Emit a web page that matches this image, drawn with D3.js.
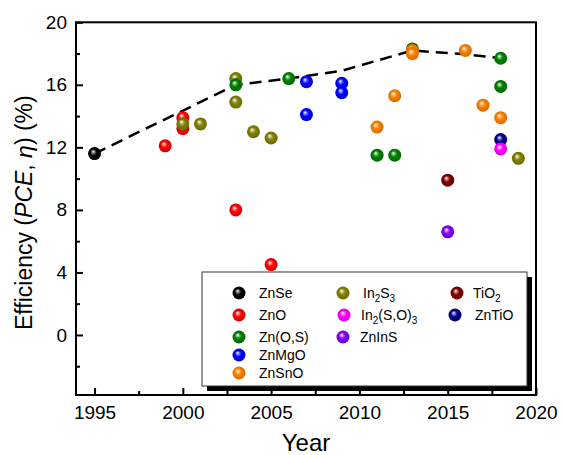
<!DOCTYPE html>
<html>
<head>
<meta charset="utf-8">
<script src="https://cdn.jsdelivr.net/npm/d3@7/dist/d3.min.js"></script>
<style>
  html, body { margin: 0; padding: 0; background: #fff; }
  svg { display: block; font-family: "Liberation Sans", Arial, sans-serif; }
</style>
</head>
<body>
<svg id="chart" width="563" height="455"></svg>
<script>
// Buffer-layer materials and their reported efficiencies (year, PCE %)
const materials = ["ZnSe", "ZnO", "Zn(O,S)", "ZnMgO", "ZnSnO", "In2S3", "In2(S,O)3", "ZnInS", "TiO2", "ZnTiO"];
const colors = ["#000000", "#ff0000", "#008000", "#0000ff", "#ff8000", "#808000", "#ff00ff", "#8000ff", "#800000", "#000090"];

const znSe = [[1995, 11.6]];
const znO = [[1999, 12.1], [2000, 13.9], [2000, 13.2], [2003, 8.0], [2005, 4.5]];
const znOS = [[2003, 16.0], [2006, 16.4], [2013, 18.3], [2018, 17.7], [2018, 15.9], [2011, 11.5], [2012, 11.5]];
const znMgO = [[2007, 16.2], [2007, 14.1], [2009, 16.1], [2009, 15.5]];
const znSnO = [[2013, 18.2], [2013, 18.0], [2016, 18.2], [2012, 15.3], [2011, 13.3], [2017, 14.7], [2018, 13.9]];
const in2S3 = [[2000, 13.5], [2001, 13.5], [2003, 16.4], [2003, 14.9], [2004, 13.0], [2005, 12.6], [2019, 11.3]];
const in2SO3 = [[2018, 11.9]];
const znInS = [[2015, 6.6]];
const tiO2 = [[2015, 9.9]];
const znTiO = [[2018, 12.5]];

// Draw order (later on top)
const seriesData = [znSe, znO, in2S3, znOS, znMgO, znSnO, tiO2, znInS, znTiO, in2SO3];
const seriesIdx  = [0, 1, 5, 2, 3, 4, 8, 7, 9, 6];

// Record-efficiency trend
const trend = [[1995, 11.6], [2003, 16.0], [2006, 16.4], [2009, 16.9], [2013, 18.2], [2016, 17.95], [2018, 17.7]];

const xTicks = [1995, 2000, 2005, 2010, 2015, 2020];
const xMinor = [1997.5, 2002.5, 2007.5, 2012.5, 2017.5];
const yTicks = [0, 4, 8, 12, 16, 20];
const yMinor = [-2, 2, 6, 10, 14, 18];

const svg = d3.select("#chart");
const L = 76, R = 536, T = 22.3, B = 395;
const x = d3.scaleLinear().domain([1993.95, 2020]).range([L, R]);
const y = d3.scaleLinear().domain([-3.84, 20]).range([B, T]);

// sphere gradients
const defs = svg.append("defs");
colors.forEach((c, i) => {
  const g = defs.append("radialGradient").attr("id", "ball" + i)
    .attr("cx", "50%").attr("cy", "50%").attr("r", "55%")
    .attr("fx", "38%").attr("fy", "33%");
  g.append("stop").attr("offset", "0%").attr("stop-color", "#ffffff");
  g.append("stop").attr("offset", "22%").attr("stop-color", d3.interpolateRgb("#ffffff", c)(0.55));
  g.append("stop").attr("offset", "45%").attr("stop-color", c);
  g.append("stop").attr("offset", "100%").attr("stop-color", d3.color(c).darker(0.6));
});

// Frame
svg.append("rect").attr("x", L).attr("y", T).attr("width", R - L).attr("height", B - T)
  .attr("fill", "none").attr("stroke", "#000").attr("stroke-width", 2);

// Axes (ticks inward)
const xAxis = d3.axisBottom(x).tickValues(xTicks).tickFormat(d3.format("d")).tickSize(-7).tickPadding(11);
const gx = svg.append("g").attr("transform", `translate(0,${B})`).call(xAxis);
gx.select(".domain").remove();
gx.selectAll(".tick line").attr("stroke-width", 2);
gx.selectAll("text").attr("font-size", 19).attr("fill", "#000");
const gxm = svg.append("g").attr("transform", `translate(0,${B})`)
  .call(d3.axisBottom(x).tickValues(xMinor).tickFormat("").tickSize(-4));
gxm.select(".domain").remove();
gxm.selectAll(".tick line").attr("stroke-width", 2);

const yAxis = d3.axisLeft(y).tickValues(yTicks).tickFormat(d3.format("d")).tickSize(-7).tickPadding(9);
const gy = svg.append("g").attr("transform", `translate(${L},0)`).call(yAxis);
gy.select(".domain").remove();
gy.selectAll(".tick line").attr("stroke-width", 2);
gy.selectAll("text").attr("font-size", 19).attr("fill", "#000");
const gym = svg.append("g").attr("transform", `translate(${L},0)`)
  .call(d3.axisLeft(y).tickValues(yMinor).tickFormat("").tickSize(-4));
gym.select(".domain").remove();
gym.selectAll(".tick line").attr("stroke-width", 2);

// Axis titles
svg.append("text").attr("x", (L + R) / 2).attr("y", 451).attr("text-anchor", "middle")
  .attr("font-size", 24).text("Year");
const yl = svg.append("text").attr("transform", `translate(32,${(T + B) / 2 + 4}) rotate(-90)`)
  .attr("text-anchor", "middle").attr("font-size", 23);
yl.append("tspan").text("Efficiency (");
yl.append("tspan").attr("font-style", "italic").text("PCE");
yl.append("tspan").text(", ");
yl.append("tspan").attr("font-style", "italic").text("η");
yl.append("tspan").text(") (%)");

// Trend line
svg.append("path").datum(trend)
  .attr("d", d3.line().x(d => x(d[0])).y(d => y(d[1])))
  .attr("fill", "none").attr("stroke", "#000").attr("stroke-width", 2.5)
  .attr("stroke-dasharray", "12,7");

// Points
const R_PT = 6.5;
seriesData.forEach((data, k) => {
  const ci = seriesIdx[k];
  svg.append("g").selectAll("circle").data(data).join("circle")
    .attr("cx", d => x(d[0])).attr("cy", d => y(d[1])).attr("r", R_PT)
    .attr("fill", `url(#ball${ci})`);
});

// Legend
const lg = svg.append("g");
lg.append("rect").attr("x", 207).attr("y", 277).attr("width", 325).attr("height", 114).attr("fill", "#000");
lg.append("rect").attr("x", 202).attr("y", 272).attr("width", 325).attr("height", 114)
  .attr("fill", "#fff").attr("stroke", "#333").attr("stroke-width", 1);

const legendItems = [
  { i: 0, mx: 239, my: 293, tx: 259, label: [["ZnSe"]] },
  { i: 1, mx: 239, my: 315, tx: 259, label: [["ZnO"]] },
  { i: 2, mx: 239, my: 337, tx: 259, label: [["Zn(O,S)"]] },
  { i: 3, mx: 239, my: 355, tx: 259, label: [["ZnMgO"]] },
  { i: 4, mx: 239, my: 373, tx: 259, label: [["ZnSnO"]] },
  { i: 5, mx: 343, my: 293, tx: 363, label: [["In"], ["2", "sub"], ["S"], ["3", "sub"]] },
  { i: 6, mx: 344, my: 315, tx: 361, label: [["In"], ["2", "sub"], ["(S,O)"], ["3", "sub"]] },
  { i: 7, mx: 343, my: 337, tx: 360, label: [["ZnInS"]] },
  { i: 8, mx: 457, my: 293, tx: 473, label: [["TiO"], ["2", "sub"]] },
  { i: 9, mx: 455, my: 315, tx: 475, label: [["ZnTiO"]] }
];
legendItems.forEach(it => {
  lg.append("circle").attr("cx", it.mx).attr("cy", it.my).attr("r", R_PT).attr("fill", `url(#ball${it.i})`);
  const t = lg.append("text").attr("x", it.tx).attr("y", it.my + 5).attr("font-size", 14);
  let sub = false;
  it.label.forEach(([s, kind]) => {
    const ts = t.append("tspan").text(s);
    if (kind === "sub" && !sub) { ts.attr("dy", 4).attr("font-size", 10); sub = true; }
    else if (kind === "sub") { ts.attr("font-size", 10); }
    else if (sub) { ts.attr("dy", -4); sub = false; }
  });
});
</script>
</body>
</html>
